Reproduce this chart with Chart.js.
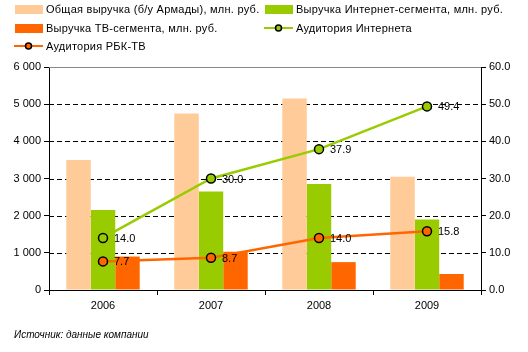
<!DOCTYPE html>
<html>
<head>
<meta charset="utf-8">
<script src="https://cdn.jsdelivr.net/npm/chart.js@4/dist/chart.umd.min.js"></script>
<style>
	html, body { margin: 0; padding: 0; background: #fff; }
	#wrap { width: 528px; height: 352px; position: relative; }
</style>
</head>
<body>
<div id="wrap"><canvas id="chartContainer" width="528" height="352"></canvas></div>
<script>
// данные с графика
var years = ["2006", "2007", "2008", "2009"];
var totalRevenue = [3500, 4750, 5150, 3050];
var internetRevenue = [2150, 2650, 2850, 1900];
var tvRevenue = [900, 1030, 750, 430];
var internetAudience = [14.0, 30.0, 37.9, 49.4];
var tvAudience = [7.7, 8.7, 14.0, 15.8];

var FONT = "'Liberation Sans', Arial, sans-serif";

function spaced(v) {
	return String(v).replace(/\B(?=(\d{3})+(?!\d))/g, " ");
}

// подписи значений у точек линий
const pointLabels = {
	id: "pointLabels",
	afterDatasetsDraw(chart) {
		const c = chart.ctx;
		c.save();
		c.font = "11px " + FONT;
		c.fillStyle = "#000";
		c.textBaseline = "middle";
		chart.data.datasets.forEach((ds, i) => {
			if (ds.type !== "line") return;
			chart.getDatasetMeta(i).data.forEach((pt, j) => {
				c.fillText(ds.data[j].toFixed(1), pt.x + 11, pt.y + 1);
			});
		});
		c.restore();
	},
};

// пунктирная сетка, верхняя линия, легенда и источник
const extras = {
	id: "extras",
	beforeDatasetsDraw(chart) {
		const c = chart.ctx, a = chart.chartArea;
		const y = chart.scales.y;
		c.save();
		c.lineWidth = 1;
		c.strokeStyle = "#000";
		c.setLineDash([5, 3]);
		y.ticks.forEach((t) => {
			if (t.value === 0 || t.value === y.max) return;
			const py = Math.round(y.getPixelForValue(t.value)) + 0.5;
			c.beginPath();
			c.moveTo(a.left, py);
			c.lineTo(a.right, py);
			c.stroke();
		});
		c.setLineDash([]);
		c.strokeStyle = "#888";
		const top = Math.round(y.getPixelForValue(y.max)) + 0.5;
		c.beginPath();
		c.moveTo(a.left, top);
		c.lineTo(a.right, top);
		c.stroke();
		c.restore();
	},
	afterDraw(chart) {
		const c = chart.ctx;
		const ds = chart.data.datasets;
		const slots = [[15, 9], [265, 9], [15, 28], [265, 28], [15, 46]];
		c.save();
		c.font = "11px " + FONT;
		c.letterSpacing = "0.25px";
		c.textBaseline = "middle";
		ds.forEach((d, i) => {
			const [x, y] = slots[i];
			if (d.type === "line") {
				c.strokeStyle = d.borderColor;
				c.lineWidth = 2;
				c.beginPath();
				c.moveTo(x - 1, y);
				c.lineTo(x + 28, y);
				c.stroke();
				c.beginPath();
				c.arc(x + 13.5, y, 3, 0, Math.PI * 2);
				c.fillStyle = d.pointBackgroundColor;
				c.fill();
				c.lineWidth = 1.5;
				c.strokeStyle = "#000";
				c.stroke();
			} else {
				c.fillStyle = d.backgroundColor;
				c.fillRect(x, y - 4, 28, 9);
			}
			c.fillStyle = "#000";
			c.fillText(d.label, x + 31, y + 1);
		});
		c.letterSpacing = "0px";
		c.font = "italic 10px " + FONT;
		c.fillText("Источник: данные компании", 14, 335);
		c.restore();
	},
};

const ctx = document.getElementById("chartContainer");

new Chart(ctx, {
	type: "bar",
	data: {
		labels: years,
		datasets: [
			{
				label: "Общая выручка (б/у Армады), млн. руб.",
				data: totalRevenue,
				backgroundColor: "#ffcc99",
				yAxisID: "y",
				order: 2,
			},
			{
				label: "Выручка Интернет-сегмента, млн. руб.",
				data: internetRevenue,
				backgroundColor: "#99cc00",
				yAxisID: "y",
				order: 2,
			},
			{
				label: "Выручка ТВ-сегмента, млн. руб.",
				data: tvRevenue,
				backgroundColor: "#ff6600",
				yAxisID: "y",
				order: 2,
			},
			{
				type: "line",
				label: "Аудитория Интернета",
				data: internetAudience,
				borderColor: "#99cc00",
				borderWidth: 2.5,
				pointBackgroundColor: "#99cc00",
				pointBorderColor: "#000",
				pointBorderWidth: 1.5,
				pointRadius: 4.5,
				yAxisID: "y1",
				order: 0,
			},
			{
				type: "line",
				label: "Аудитория РБК-ТВ",
				data: tvAudience,
				borderColor: "#ff6600",
				borderWidth: 2.5,
				pointBackgroundColor: "#ff6600",
				pointBorderColor: "#000",
				pointBorderWidth: 1.5,
				pointRadius: 4.5,
				yAxisID: "y1",
				order: 1,
			},
		],
	},
	options: {
		responsive: false,
		animation: false,
		layout: { padding: { top: 67, left: 0, right: 0, bottom: 0 } },
		datasets: {
			bar: { categoryPercentage: 0.68, barPercentage: 1.0 },
		},
		plugins: {
			legend: { display: false },
			tooltip: { enabled: false },
		},
		scales: {
			x: {
				offset: true,
				grid: { offset: true, drawOnChartArea: false, color: "#000", tickLength: 5 },
				border: { color: "#000", width: 1 },
				ticks: { color: "#000", font: { family: FONT, size: 11 }, padding: 4 },
				afterFit: (s) => { s.height = 62; },
			},
			y: {
				position: "left",
				min: 0,
				max: 6000,
				ticks: {
					stepSize: 1000,
					color: "#000",
					font: { family: FONT, size: 11 },
					padding: 3,
					callback: (v) => spaced(v),
				},
				grid: { drawOnChartArea: false, color: "#000", tickLength: 5 },
				border: { color: "#000", width: 1 },
				afterFit: (s) => { s.width = 49; },
			},
			y1: {
				position: "right",
				min: 0,
				max: 60,
				ticks: {
					stepSize: 10,
					color: "#000",
					font: { family: FONT, size: 11 },
					padding: 3,
					callback: (v) => v.toFixed(1),
				},
				grid: { drawOnChartArea: false, color: "#000", tickLength: 5 },
				border: { color: "#000", width: 1 },
				afterFit: (s) => { s.width = 47; },
			},
		},
	},
	plugins: [pointLabels, extras],
});
</script>
</body>
</html>
